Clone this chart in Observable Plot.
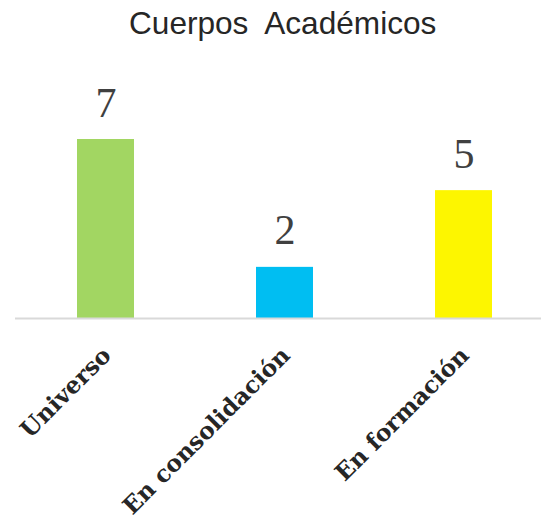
<!DOCTYPE html>
<html>
<head>
<meta charset="utf-8">
<script src="https://cdn.jsdelivr.net/npm/d3@7"></script>
<script src="https://cdn.jsdelivr.net/npm/@observablehq/plot@0.6"></script>
<style>
  html, body { margin: 0; padding: 0; background: #fff; }
  #wrap { position: relative; width: 541px; height: 519px; }
  #title { position: absolute; left: 129px; top: 5px;
           font-family: "Liberation Sans", Arial, sans-serif; font-size: 31.6px; color: #262626;
           white-space: pre; line-height: 1.2; }
</style>
</head>
<body>
<div id="wrap"><div id="title">Cuerpos  Académicos</div></div>
<script>
const categories = ["Universo", "En consolidación", "En formación"];
const values = [7, 2, 5];
const colors = ["#a2d662", "#00bef2", "#fdf600"];

const data = categories.map((c, i) => ({cat: c, value: values[i], color: colors[i]}));

const chart = Plot.plot({
  width: 541,
  height: 519,
  marginTop: 139,
  marginBottom: 201,
  marginLeft: 15,
  marginRight: 0,
  x: {domain: categories, paddingInner: 0.683, paddingOuter: 0.303, align: 0.56, axis: null},
  y: {domain: [0, 7], axis: null},
  marks: [
    Plot.barY(data, {x: "cat", y: "value", fill: "color"}),
    Plot.ruleY([0], {stroke: "#d9d9d9", strokeWidth: 2}),
    Plot.text(data, {x: "cat", y: "value", text: d => String(d.value), dy: -23, lineAnchor: "bottom",
      fontSize: 42, fontFamily: "Liberation Serif, serif", fill: "#404040"}),
    Plot.text(data, {x: "cat", y: () => 0, text: "cat", rotate: -45, textAnchor: "end",
      dy: 33, dx: 1, fontSize: 23.5, fontWeight: "bold", fontFamily: "DejaVu Serif, serif", fill: "#262626"})
  ]
});
document.getElementById("wrap").appendChild(chart);
</script>
</body>
</html>
